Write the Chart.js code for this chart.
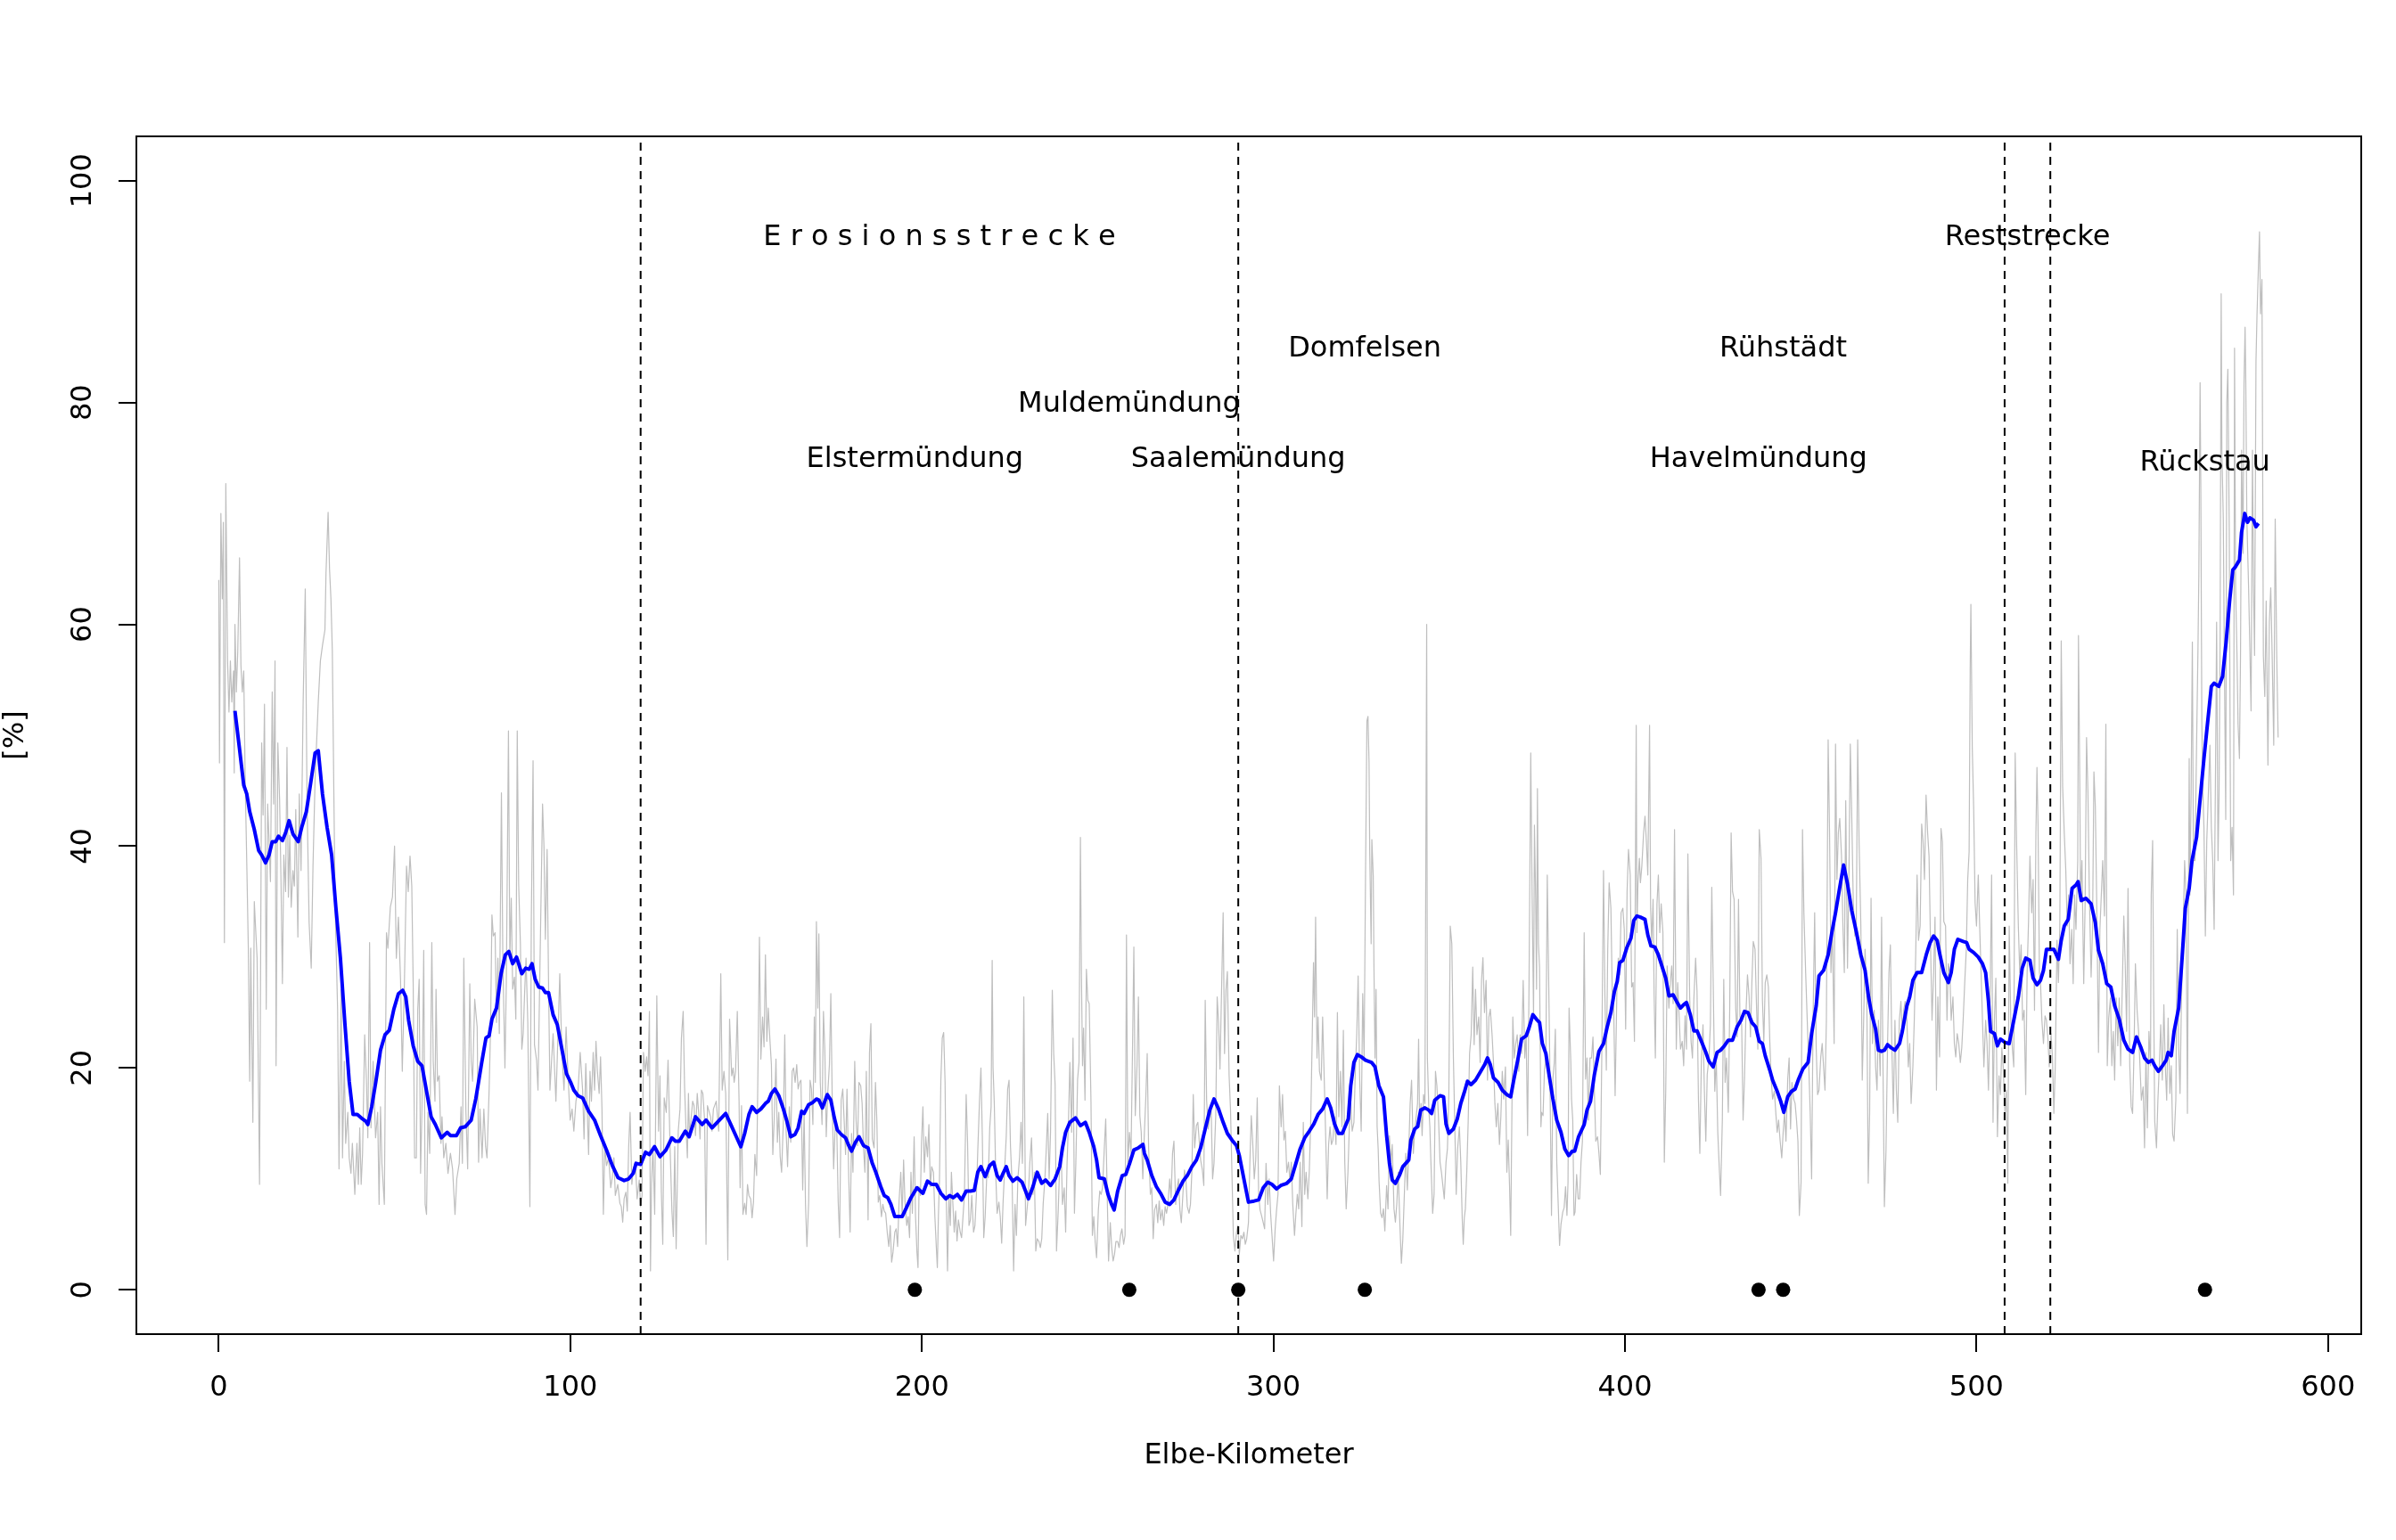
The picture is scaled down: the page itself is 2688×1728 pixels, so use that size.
<!DOCTYPE html>
<html><head><meta charset="utf-8">
<script src="https://cdn.jsdelivr.net/npm/chart.js@4.4.1/dist/chart.umd.min.js"></script>
<style>html,body{margin:0;padding:0;background:#fff;}canvas{display:block;}</style>
</head><body>
<canvas id="c" width="2688" height="1728" style="width:2688px;height:1728px"></canvas>
<script>
// Raw readings [Elbe-km, %] (grey, noisy)
const grayReadings = [
[0,64],[0.2,47.5],[0.6,70],[1,62.3],[1.3,69.2],[1.6,31.3],[2,72.7],[2.5,56.7],[2.9,52.1],[3.3,56.7],[3.7,53],[4.2,55.8],[4.4,46.6],[4.6,60],[5,53.9],[5.4,57.6],[5.9,66],[6.3,56.3],[6.7,53.9],[7.1,55.8],[7.5,46.1],[8,37.8],[8.4,30.8],[8.8,18.8],[9.1,30.8],[9.7,15.1],[10.1,35],[10.9,29.9],[11.6,9.5],[12.2,49.3],[12.6,42.8],[13,52.8],[13.5,25.3],[13.9,43.8],[14.3,40.5],[14.7,36.8],[15.2,53.9],[15.6,43.8],[16,56.7],[16.3,20.2],[16.8,49.3],[17.3,44.2],[17.7,36.8],[18.1,27.6],[18.5,39.2],[19,35.9],[19.4,48.9],[19.8,35.4],[20.2,41],[20.6,34.5],[21.1,37.8],[21.5,36.4],[21.9,43.3],[22.5,31.8],[22.9,44.7],[23.4,37.8],[24,53],[24.6,63.2],[25.1,44.2],[25.7,33.1],[26.3,29],[26.8,38.2],[27.4,46.1],[28.3,53],[28.9,56.7],[29.5,58.1],[30.2,59.5],[30.5,64.6],[31.1,70.1],[31.5,65],[31.9,62.3],[32.3,57.6],[32.7,45.7],[33.1,34.5],[33.8,25.3],[34.2,10.9],[34.8,27.1],[35.2,11.9],[35.7,20.6],[36.1,13.2],[36.7,16],[37.1,11.9],[37.6,10.5],[38,13.2],[38.7,8.6],[39.3,13.2],[39.7,9.5],[40.1,14.6],[40.5,9.5],[40.9,12.3],[41.5,23],[42,18.8],[42.4,13.7],[42.9,31.3],[43.3,14.6],[43.9,20.6],[44.6,13.7],[45.2,16],[45.6,7.7],[46,16.5],[46.4,11.4],[47.1,7.7],[47.7,32.2],[48.1,30.8],[48.8,34.5],[49.4,35.4],[50,40],[50.5,29.9],[51.1,33.6],[51.7,28],[52.2,19.7],[52.8,27.6],[53.4,38.2],[53.9,35.9],[54.4,39.1],[54.9,36.4],[55.3,27.6],[55.7,11.9],[56.2,11.9],[56.6,25.3],[57,28],[57.4,10.5],[57.8,16.5],[58.3,30.6],[58.7,7.7],[59.1,6.8],[59.5,16],[60,12.3],[60.6,31.3],[61,20.6],[61.5,17],[61.8,27.1],[62.2,18.8],[62.7,19.3],[63.2,13.2],[63.5,15.6],[64,11.9],[64.6,13.2],[65.2,10.5],[65.9,12.3],[66.5,10.9],[67.2,6.8],[67.7,10],[68.4,11.4],[68.9,16.5],[69.3,11.4],[69.7,29.9],[70.3,16],[70.8,10.9],[71.4,27.6],[71.8,20.6],[72.2,18.8],[72.8,26.2],
[73.5,23.7],[73.9,11.5],[74.3,16.3],[74.9,11.9],[75.4,16.3],[75.9,12.9],[76.3,11.9],[76.9,18],[77.3,23.4],[77.7,33.8],[78.1,31.9],[78.6,32.2],[79,24.1],[79.4,29.9],[79.8,23.1],[80.4,44.8],[80.8,29.9],[81.4,20],[81.8,27.8],[82.4,50.4],[82.8,29.9],[83.2,35.3],[83.6,27.1],[84.1,28.2],[84.5,24.4],[84.9,50.4],[85.3,36.6],[85.8,31.2],[86.2,21.7],[86.6,23.1],[87,26.8],[87.4,29.9],[87.9,24.1],[88.5,7.5],[88.9,33.2],[89.4,47.7],[89.8,22.1],[90.4,20.7],[90.8,18],[91.5,31.9],[92.1,43.8],[92.5,40],[92.9,31.6],[93.4,39.7],[93.8,27.8],[94.2,18],[95.1,23.1],[95.9,17],[96.6,24.1],[97,28.5],[97.6,21.4],[98.2,18],[98.8,23.7],[99.3,19.7],[99.95,15.3],[100.5,16.3],[101,14.3],[101.6,17],[102.2,18],[102.8,21.4],[103.5,18],[103.9,13.6],[104.4,20.4],[104.8,16.3],[105.2,12.2],[105.6,19.7],[106,17],[106.5,21.4],[106.9,18],[107.3,22.4],[107.7,19.7],[108.2,17.7],[108.6,21],[109,16.3],[109.4,6.8],[109.8,12.9],[110.3,11.2],[110.9,11.9],[111.5,9.2],[111.96,10.2],[112.4,11.9],[112.8,8.5],[113.5,9.5],[114.1,7.8],[114.5,7.5],[114.9,6.1],[115.3,8.2],[115.8,8.8],[116.2,7.1],[116.6,12.9],[117,16],[117.5,9.5],[117.9,10.9],[118.5,11.5],[119,8.2],[119.6,9.9],[120,7.5],[120.4,8.5],[120.8,21.4],[121.3,19.7],[121.7,21],[122.1,19.3],[122.5,25.1],[122.8,1.7],[123.1,9.5],[123.5,12.9],[124,6.8],[124.6,26.5],[125.1,14.3],[125.5,19.3],[125.9,8.8],[126.3,4.1],[126.7,17.3],[127.3,16],[127.8,20.7],[128.4,12.6],[128.9,7.1],[129.3,4.8],[129.7,12.9],[130.1,3.7],[130.7,14.3],[131.2,16.3],[131.6,22.7],[132.1,25.1],[132.5,18.3],[132.9,14.6],[133.3,11.9],[133.6,17.7],[133.9,13.9],[134.4,15.6],[134.8,17],[135.2,16.6],[135.6,13.9],[136.1,17.7],[136.5,16],[136.9,13.6],[137.3,18],[137.7,17.7],[138.2,15.3],[138.6,4.1],[139,16.6],[139.9,15.6],[140.3,14.3],[140.7,16.3],[141.5,17],[142.2,14.3],[142.8,28.5],[143.2,18],[143.7,19.7],[144.2,17.7],[144.8,2.7],[145.3,24.4],[145.9,19.3],[146.3,20],[146.6,18.7],[147,19.7],[147.5,25.1],[148,17],[148.3,9.2],[148.7,16.6],[149.1,6.8],[149.6,7.8],[150,6.8],[150.4,9.5],[150.8,8.5],[151.3,8.2],[151.7,6.5],
[152.1,7.9],[152.5,12.2],[153,10.3],[153.4,20.6],[153.8,31.8],[154.2,20.8],[154.7,24.6],[155.1,21.9],[155.5,30.2],[155.9,22.4],[156.3,25.4],[156.8,22.4],[157.2,20.3],[157.6,12.2],[158,15.4],[158.5,20.8],[158.9,13.3],[159.3,16],[159.7,12],[160.1,10.6],[160.6,15.2],[161,23],[161.4,14.1],[161.8,11.1],[162.3,16.5],[162.7,13.3],[163.1,19.7],[163.5,20],[163.95,18.7],[164.4,20.3],[164.8,18.1],[165.2,18.7],[165.6,18.9],[166.1,9],[166.5,16],[166.9,7.7],[167.3,3.9],[167.8,7.9],[168.2,18.9],[168.6,18.1],[169,14.9],[169.4,24.6],[169.7,18.7],[170,33.2],[170.4,25.4],[170.7,32.1],[171.1,18.7],[171.6,14.9],[172,25.1],[172.4,21.6],[172.8,13.8],[173.2,17.6],[173.7,20.3],[174.1,26.7],[174.5,17.1],[174.9,10.9],[175.4,15.2],[175.8,14.4],[176.2,7.9],[176.6,4.7],[177.05,17.1],[177.5,18.1],[177.9,15.2],[178.3,12.2],[178.7,18.1],[179.2,10.1],[179.6,5.2],[180,14.1],[180.4,10.6],[180.9,20.6],[181.3,15.2],[181.7,13],[182.1,18.7],[182.6,18.4],[183,16.8],[183.4,12.8],[183.8,10.6],[184.2,19.7],[184.7,6.3],[185.1,21.4],[185.5,24],[185.9,13.6],[186.4,12.8],[186.8,18.7],[187.2,15.2],[187.6,7.9],[188,8.5],[188.5,6.6],[188.9,7.7],[189.3,7.1],[189.7,6.9],[190.2,5],[190.6,3.9],[191,5.8],[191.4,2.5],[191.8,3.4],[192.3,5.2],[192.7,5.5],[193.1,3.9],[193.5,7.9],[194,10.6],[194.4,6.6],[194.8,11.7],[195.2,7.9],[195.7,5.8],[196.1,6.6],[196.5,4.7],[196.9,10.6],[197.3,6.9],[197.8,13.8],[198.2,6.6],[198.6,3.4],[198.9,2],[199.2,9.3],[199.6,8.5],[199.9,13.3],[200.3,16.5],[200.7,10.6],[201.1,13.8],[201.6,12],[202,14.9],[202.4,9.3],[202.8,11.1],[203.3,10.6],[203.7,6.6],[204.1,3.9],[204.4,2],[204.7,6.6],[205,9.8],[205.4,18.9],[205.8,22.7],[206.2,23.2],[206.6,18.7],[206.9,9],[207.3,1.7],[207.7,8.5],[208.1,5.8],[208.4,10.6],[208.8,7.9],[209.2,5.2],[209.6,7.1],[210,4.4],[210.4,6.3],[210.9,5.2],[211.3,4.7],[211.7,6.6],[212.1,8.5],[212.6,17.6],[213,13.3],[213.4,5.8],[213.8,6.3],[214.2,8.5],[214.7,5.2],[215.1,5.8],[215.5,8.5],[215.9,12.5],[216.4,17.1],[216.8,20],[217.2,13.8],[217.6,4.7],[218,6.6],[218.5,10.6],[218.9,10.1],[219.3,14.6],[219.7,16.5],[220,29.7],[220.25,20],[220.6,16.8],[221,10.6],[221.4,6.9],[221.9,7.9],[222.3,6.6],[222.7,4.2],[223.1,7.9],[223.5,10.6],[224,13.8],[224.4,18.1],[224.8,18.9],[225.2,13],[225.7,9.3],[226.1,1.7],
[226.5,7.7],[226.9,4.9],[227.3,10],[227.8,12],[228.2,15.1],[228.6,11.4],[229,26.4],[229.5,5.8],[229.9,7.2],[230.3,8.6],[230.7,11.4],[231.2,13.7],[231.6,8.6],[232,10.6],[232.4,3.5],[232.8,4.6],[233.3,4.35],[233.7,3.8],[234.1,4.6],[234.5,7.7],[235,10],[235.4,12.8],[235.8,15.9],[236.2,10],[236.6,14.2],[237.1,27],[237.5,21.3],[237.9,18.5],[238.3,3.5],[238.8,7.2],[239.2,11.4],[239.6,12.8],[240,7.7],[240.5,9.2],[240.9,5.2],[241.3,11.4],[241.7,15.1],[242.1,20.5],[242.6,14.2],[243,22.7],[243.4,6.9],[243.8,11.4],[244.3,19],[244.7,20.5],[245.1,40.8],[245.4,28.1],[245.7,20.2],[246,23.6],[246.4,17.1],[246.8,28.9],[247.2,26.1],[247.6,25.8],[248.1,17.1],[248.5,4.9],[248.9,6.6],[249.3,4.35],[249.7,2.9],[250.2,7.2],[250.6,8.9],[251,8.6],[251.4,9.2],[251.9,12.8],[252.3,15.4],[252.7,8.9],[253.1,2.6],[253.6,6.05],[254,3.8],[254.4,2.6],[254.8,3.2],[255.2,4.35],[255.7,4.35],[256.1,3.8],[256.5,4.9],[256.9,5.5],[257.4,4.1],[257.8,4.9],[258.2,32],[258.6,11.4],[259.05,14.2],[259.5,12.3],[259.9,21.3],[260.3,30.9],[260.7,15.7],[261.2,20.2],[261.6,26.4],[262,15.7],[262.4,14.2],[262.85,10],[263.3,14.2],[263.7,17.3],[264.1,21.3],[264.5,12.8],[265,8.6],[265.4,9.2],[265.8,4.6],[266.2,7.2],[266.7,7.7],[267.1,6.05],[267.5,8],[267.9,6.3],[268.35,7.2],[268.8,5.8],[269.2,7.5],[269.6,6.9],[270,7.7],[270.5,10],[270.9,8.3],[271.3,12.3],[271.7,13.4],[272.2,7.7],[272.6,9.2],[273,10],[273.4,7.2],[273.8,6.05],[274.3,8.9],[274.7,10.8],[275.1,10],[275.5,7.5],[276,6.9],[276.4,7.7],[276.8,10.6],[277.2,17.6],[277.6,12.8],[278.1,14.8],[278.5,15.1],[278.9,13.4],[279.3,11.7],[279.8,10.8],[280.2,9.4],[280.6,26.1],[281,17.1],[281.45,14.5],[281.9,15.7],[282.3,16.2],[282.7,10],[283.1,11.4],[283.6,15.7],[284,26.4],[284.4,24.1],[284.8,19.9],[285.25,27],[285.7,34],[286.1,21.3],[286.5,27],[286.9,28.7],[287.4,19.3],[287.8,16.2],[288.2,10.6],[288.6,4.9],[289.05,3.5],[289.5,5.2],[289.9,5.8],[290.3,3.2],[290.75,4.9],[291.2,4.6],[291.6,5.2],[292,4.1],[292.4,4.6],[292.9,6.05],[293.3,11.4],[293.7,15.7],[294.1,13.4],[294.55,10],[294.97,11.7],[295.4,17.3],[295.8,8.6],[296.2,7.2],[296.7,6.6],[297.1,6.05],[297.5,5.5],[297.9,11.4],[298.4,7.7],[298.8,10],[299.2,6.9],[299.6,4.9],[300.05,2.6],[300.5,5.5],[300.9,7.2],[301.3,8.6],
[301.7,18.4],[302.2,14.7],[302.6,17.6],[303,13.5],[303.4,14.3],[303.8,10.6],[304.3,11.5],[304.7,9.8],[305.1,11.5],[305.5,7.75],[306,4.9],[306.4,6.9],[306.8,8.6],[307.2,7.3],[307.6,11.5],[308.1,5.7],[308.5,15.1],[308.9,8.6],[309.3,10.6],[309.8,8.2],[310.2,10.6],[310.6,15.1],[311,22.1],[311.4,29.5],[311.7,24.6],[312,33.6],[312.4,20.9],[312.7,24.6],[313.1,19.7],[313.6,18.9],[314,24.6],[314.4,19.7],[314.8,14.7],[315.3,8.2],[315.7,13.1],[316.1,14.7],[316.5,13.1],[316.9,13.5],[317.4,15.6],[317.8,13.1],[318.2,25],[318.6,15.6],[319.05,19.7],[319.5,14.7],[319.9,23.4],[320.3,11.5],[320.7,7.3],[321.2,10.6],[321.6,14.7],[322,16.8],[322.4,14.3],[322.9,15.1],[323.3,19.7],[323.7,23],[324.1,28.3],[324.55,18.9],[324.97,14.3],[325.4,26.7],[325.8,20.9],[326.2,37.3],[326.6,51.3],[326.9,51.7],[327.2,47.6],[327.4,39.4],[327.8,31.2],[328,40.6],[328.4,37.3],[328.6,29.1],[328.9,20.9],[329.2,27.1],[329.5,14.7],[329.8,12.7],[330.05,9.8],[330.5,6.9],[330.9,6.5],[331.3,7.3],[331.7,5.3],[332.2,9.4],[332.6,7.3],[333,13.9],[333.4,11.5],[333.8,13.1],[334.3,7.3],[334.7,6.1],[335.1,7.75],[335.5,10.6],[336,5.7],[336.4,2.4],[336.8,4.5],[337.2,8.2],[337.65,12.3],[338.1,9],[338.5,12.7],[338.9,16.8],[339.3,18.9],[339.8,12.3],[340.2,14.3],[340.6,15.6],[341,16.8],[341.3,22.6],[341.6,14.7],[342,16.8],[342.3,13.9],[342.7,17.6],[343.1,16.8],[343.6,60],[343.8,20.9],[344.2,16.4],[344.5,14.7],[344.8,11.5],[345.3,6.9],[345.7,8.6],[346.1,19.7],[346.5,18.4],[346.95,15.6],[347.4,11.5],[347.8,10.6],[348.2,9.4],[348.6,8.2],[349.1,11.5],[349.5,12.7],[349.9,17.6],[350.3,32.8],[350.75,31.2],[351.2,20.9],[351.6,14.7],[352,8.6],[352.4,12.7],[352.9,14.7],[353.3,11.5],[353.7,6.5],[354,4.1],[354.3,6.5],[354.6,7.3],[355,10.6],[355.4,15.1],[355.8,21.3],[356.25,23],[356.7,29.1],[357.1,22.1],[357.5,27.1],[357.9,23],[358.4,24.6],[358.8,20.5],[359.2,27.9],[359.6,29.95],[360.05,25],[360.5,27.9],[360.9,18.9],[361.3,24.6],[361.7,25.3],[362.2,23],[362.6,20.5],[363,16.8],[363.4,14.7],[363.85,16.8],[364.3,13.1],[364.7,15.6],[365.1,19.7],[365.5,17.2],[366,20.1],[366.4,10.6],[366.8,13.5],[367.2,9],[367.5,4.9],[367.8,14.7],[368.1,24.6],[368.5,20.9],[368.9,22.1],[369.35,23],[369.8,19.7],[370.2,23],[370.6,21.3],[371.05,27.9],[371.5,20.9],[371.9,23],[372.3,13.9],[372.7,27.1],[373.2,48.4],[373.6,35.3],[374,24.6],[374.25,41.9],[374.6,35.3],[374.85,27.1],[375.1,45.2],[375.4,31.2],[375.7,29.1],[376.1,14.7],
[376.3,16],[376.7,15.7],[377.1,19.8],[377.5,20.9],[377.9,37.4],[378.2,30.3],[378.6,20.9],[379.1,6.7],[379.5,19],[379.9,20.5],[380.2,23.5],[380.6,11.5],[381,7.8],[381.4,4],[381.8,5.9],[382.3,7],[382.7,7.4],[383.1,9.3],[383.5,6.7],[383.8,9.7],[384.1,25.4],[384.6,20.5],[384.8,17.2],[385.15,15.3],[385.5,6.7],[385.8,7],[386.25,10.4],[386.7,8.2],[387.1,8.2],[387.5,11.5],[387.9,13.4],[388.4,32.2],[388.8,19],[389.2,20.9],[389.6,15.3],[390.05,20.9],[390.5,20.9],[390.9,22.8],[391.3,17.9],[391.7,13.4],[392.2,13.8],[392.6,12.3],[393,10.4],[393.4,20.9],[393.9,37.8],[394.3,26.5],[394.7,19.8],[395.1,30.7],[395.5,36.7],[396,34.4],[396.4,26.5],[396.8,25.4],[397.2,17.5],[397.7,26.9],[398.1,29.9],[398.5,28.4],[398.9,34],[399.4,34.4],[399.8,32.5],[400.2,23.5],[400.6,35.9],[401,39.7],[401.5,37.4],[401.9,27.3],[402.3,27.7],[402.7,22.4],[403.2,50.9],[403.4,32.2],[403.7,36.7],[404.1,38.9],[404.4,36.7],[404.8,38.2],[405.3,41.2],[405.7,42.7],[406.1,40.4],[406.5,37.4],[407,50.9],[407.3,34.4],[407.6,31.4],[408,35.2],[408.3,26.5],[408.65,20.9],[409.1,34.8],[409.5,37.4],[409.9,32.2],[410.3,34.8],[410.8,32.2],[411.2,11.5],[411.6,17.9],[412,29.2],[412.5,25.4],[412.9,27.7],[413.3,29.2],[413.7,25.8],[414.1,41.5],[414.6,21.7],[415,27.7],[415.4,24.7],[415.8,21.7],[416.3,22.4],[416.7,20.2],[417.1,24.7],[417.5,21.7],[417.9,39.3],[418.4,26.5],[418.8,22.4],[419.2,20.9],[419.6,26.2],[420.1,29.9],[420.5,26.9],[420.9,17.2],[421.3,12.3],[421.75,20.9],[422.2,23.9],[422.6,17.9],[423,13.4],[423.4,19.4],[423.9,20.9],[424.3,23.9],[424.7,36.3],[425.1,27.7],[425.55,17.9],[425.97,20.9],[426.4,14.2],[426.8,11.2],[427.2,8.5],[427.7,15.3],[428.1,28],[428.5,18.7],[428.9,20.9],[429.4,16],[429.8,25.4],[430.2,41.2],[430.6,35.9],[431.05,35.2],[431.5,25.4],[431.9,22.8],[432.3,35.2],[432.7,24.7],[433.2,23.9],[433.6,15.3],[434,19],[434.4,24.7],[434.85,28.4],[435.3,26.5],[435.7,22.8],[436.1,27.7],[436.5,31.4],[437,30.7],[437.4,25.8],[437.8,21.7],[438.2,41.5],[438.7,38.9],[439.1,26.2],[439.5,22.4],[439.9,27.7],[440.35,28.4],[440.8,27.3],[441.2,22.4],[441.6,19],[442,17.2],[442.5,17.9],[442.9,16],[443.3,14.2],[443.7,15.3],[444.15,13.4],[444.6,11.9],[445,14.2],[445.4,16],[445.8,13.4],[446.3,19],[446.7,20.9],[447.1,14.5],[447.5,18.7],[448,17.2],[448.4,16.8],[448.8,15.3],[449.2,13.4],[449.6,6.7],[450.1,9.7],[450.5,41.5],[450.9,34],
[451.4,28.6],[451.85,24.3],[452.3,20.1],[452.7,15.9],[453.1,10],[453.5,24.3],[453.96,34],[454.4,21.8],[454.8,17.6],[455.2,18],[455.7,21],[456.1,22.2],[456.5,20.1],[456.9,18],[457.3,24.3],[457.8,49.6],[458.2,41.2],[458.6,28.6],[459,32.8],[459.5,22.2],[459.9,49.2],[460.3,37],[460.7,41.2],[461.1,42.5],[461.6,39.1],[462,32.8],[462.4,28.6],[462.8,44.1],[463.3,29],[463.7,37],[464.1,49.2],[464.5,42.9],[464.95,34.9],[465.4,31.9],[465.8,32.8],[466.2,49.6],[466.6,40.4],[467.1,32.8],[467.5,18.9],[467.9,24.3],[468.3,30.7],[468.8,26.4],[469.2,9.6],[469.6,15.9],[470,35.3],[470.4,22.2],[470.9,25.2],[471.3,20.1],[471.7,18],[472.1,24.3],[472.6,19.3],[473,33.6],[473.4,20.1],[473.8,7.5],[474.25,12.5],[474.7,22.2],[475.1,28.6],[475.5,31.1],[475.9,22.2],[476.35,15.9],[476.8,24.3],[477.2,18],[477.6,15.1],[478.05,24.3],[478.5,26],[478.9,23.1],[479.3,25.2],[479.7,26],[480.2,24.3],[480.6,20.1],[481,22.2],[481.4,16.8],[481.9,20.1],[482.3,24.3],[482.7,30.2],[483.1,37.4],[483.5,31.5],[483.97,32.8],[484.4,42],[484.8,40.4],[485.2,37],[485.65,44.6],[486.1,41.2],[486.5,39.1],[486.9,31.5],[487.35,24.3],[487.8,28.6],[488.2,33.6],[488.6,18],[489,26.4],[489.5,21],[489.9,41.6],[490.3,40.4],[490.7,33.2],[491.2,32.8],[491.6,24.3],[492,29.4],[492.4,28.6],[492.8,24.3],[493.3,26.4],[493.7,22.2],[494.1,21],[494.5,23.1],[494.95,22.2],[495.4,20.5],[495.8,21.8],[496.2,24.3],[496.65,27.7],[497.1,30.7],[497.5,37],[497.9,39.5],[498.2,55.9],[498.4,61.8],[498.8,48.8],[499.2,43.3],[499.6,34.9],[500,32.8],[500.5,37.4],[500.9,32.8],[501.3,28.6],[501.7,24.3],[502.1,20.1],[502.6,24.3],[503,22.2],[503.4,18],[503.8,24.3],[504.3,37.4],[504.7,15.1],[505.1,24.3],[505.5,28.1],[505.95,13.8],[506.4,19.3],[506.8,17.6],[507.2,21.8],[507.6,20.1],[508.1,15.9],[508.5,18],[508.9,9.6],[509.3,32.8],[509.75,24.3],[510.2,21.8],[510.6,20.1],[511,48.4],[511.4,40.4],[511.9,32.8],[512.3,28.6],[512.7,31.1],[513.1,24.3],[513.55,25.2],[514,17.6],[514.4,28.6],[514.8,33.2],[515.2,39.1],[515.7,34],[516.1,37],[516.5,25.2],[516.9,41.2],[517.2,47.1],[517.5,42],[517.9,28.6],[518.2,27.7],[518.6,24.3],[519.05,22.2],[519.5,24.7],[519.9,24.3],[520.3,22.7],[520.7,20.1],[521.2,23.1],[521.6,21],[522,15.9],[522.4,20.1],[522.9,31.5],[523.3,27.7],[523.7,32.8],[524.1,58.5],[524.5,45.4],[524.96,41.2],[525.4,37.8],[525.8,32.8],
[526.2,35.6],[526.6,29.4],[527.1,32.5],[527.5,27.6],[527.9,35.6],[528.3,32.5],[528.8,38.7],[529,59],[529.4,44.8],[529.6,35.6],[530,38.7],[530.5,27.6],[530.9,35],[531.3,49.8],[531.7,44.8],[532.1,35.6],[532.6,28.2],[533,32.5],[533.4,46.7],[533.8,43.6],[534.3,32.5],[534.7,21.4],[535.1,32.5],[535.5,35.6],[535.9,38.7],[536.4,33.7],[536.8,51],[537.2,20.2],[537.6,24.5],[538.1,26.3],[538.5,20.2],[538.9,23.3],[539.3,18.9],[539.75,26.3],[540.2,22],[540.6,26.3],[541,20.2],[541.4,26.3],[541.9,33.7],[542.3,29.4],[542.7,23.3],[543.1,36.2],[543.6,20.2],[544,16.5],[544.4,15.9],[544.8,21.4],[545.2,29.4],[545.7,25.1],[546.1,23.3],[546.5,20.2],[546.9,17.1],[547.4,18.3],[547.8,12.8],[548.2,21.4],[548.6,14.6],[549.05,23.3],[549.5,20.2],[549.7,35.6],[550.1,40.5],[550.4,26.3],[550.7,15.2],[551.2,12.8],[551.6,17.1],[552,20.2],[552.4,23.9],[552.85,18.9],[553.3,25.7],[553.7,20.2],[554.1,17.1],[554.5,24.5],[555,17.7],[555.4,20.2],[555.8,14],[556.2,13.4],[556.7,17.1],[557.1,32.5],[557.5,22],[557.9,17.7],[558.3,26.3],[558.8,32.5],[559.2,38.7],[559.6,35.6],[560,15.9],[560.5,47.9],[560.7,35.6],[561.05,44.8],[561.4,58.4],[561.7,38.7],[562.15,38.7],[562.6,49.1],[563,57.8],[563.25,64.6],[563.6,81.8],[563.8,72.6],[564.1,51],[564.4,44.8],[564.7,41.7],[565.1,31.9],[565.5,40.5],[565.96,44.8],[566.4,49.1],[566.8,41.7],[567.2,38.7],[567.6,32.5],[568.1,51],[568.3,60.2],[568.7,38.7],[569,44.8],[569.3,59],[569.6,89.8],[569.8,75.7],[570.2,69.5],[570.5,57.2],[570.9,42.4],[571.2,80],[571.5,83],[571.9,68.3],[572.3,38.7],[572.7,41.7],[573.1,35.6],[573.4,84.9],[573.7,63.3],[574.1,57.2],[574.4,51],[574.8,47.9],[575.1,57.2],[575.4,75.7],[575.8,66.4],[576.1,81.8],[576.4,86.8],[576.6,81.8],[576.9,69.5],[577.4,63.3],[577.8,57.2],[578.1,52.2],[578.5,75.7],[578.8,63.3],[579.1,57.2],[579.5,83.7],[579.8,88],[580.2,92.3],[580.5,95.4],[580.8,88],[581.2,91.1],[581.6,57.2],[582,53.5],[582.4,62.1],[582.9,47.3],[583.3,60.2],[583.7,63.3],[584.1,57.2],[584.55,49.1],[584.97,69.5],[585.4,57.2],[585.8,49.8]
];

// Smoothed course [Elbe-km, %] (blue)
const blueReadings = [
[4.6,52.2],[5.85,48.9],[7.1,45.5],[7.97,44.7],[8.8,43.1],[10.1,41.5],[11.35,39.6],[12.2,39.2],[13.3,38.5],[14.3,39.2],[15.2,40.4],[16.2,40.4],[17,40.9],[18.1,40.5],[19,41.2],[20,42.3],[21.1,41.1],[22.6,40.4],[23.6,41.7],[24.9,43.1],[26.1,45.6],[27.4,48.4],[28.3,48.6],[29.5,44.7],[30.8,41.7],[32.1,39.2],[33.3,34.5],[34.6,29.9],[35.9,23.9],[37.1,18.8],[38.2,15.8],[39.4,15.8],[40.5,15.5],[41.8,15.2],[42.4,14.9],[43.5,16.5],[44.7,18.8],[46,21.6],[47.3,23],[48.5,23.4],[49.8,25.3],[51.1,26.7],[52.3,27],[53.2,26.4],[54,24.3],[55.3,22],[56.6,20.6],[57.8,20.2],[59.1,17.9],[60.4,15.6],[61.6,14.9],[63.3,13.7],[65,14.2],[65.9,13.9],[67.6,13.9],[68.8,14.6],[70.1,14.7],[71.8,15.3],[73.1,17.2],
[74.8,20.5],[76,22.7],[76.9,22.9],[77.7,24.4],[79,25.4],[80.3,28.5],[81.5,30.2],[82.5,30.5],[83.6,29.4],[84.7,30],[86.2,28.5],[87.3,29],[88.3,28.9],[89.1,29.4],[90,28],[91,27.3],[92.1,27.2],[92.9,26.8],[93.8,26.8],[95.1,24.8],[96.3,23.9],[97.6,21.7],[98.9,19.5],[100.1,18.7],[101,18],[102.2,17.5],[103.5,17.3],[105.2,16.1],[106.9,15.3],[108.6,13.9],[110.3,12.6],[111.96,11.2],[113.6,10.1],[115.3,9.85],[116.6,10],[117.9,10.5],[118.7,11.4],[120,11.3],[121.4,12.4],[122.5,12.2],[123.96,12.9],[125.5,12],[127.2,12.6],[128.9,13.7],[129.9,13.4],[131,13.4],[132.7,14.3],[133.8,13.8],[135.6,15.6],[137.5,14.9],[138.6,15.3],[140.3,14.6],[142.4,15.3],[144.2,15.9],[145.8,14.8],[147.5,13.6],[148.5,12.9],[149.6,14.1],[150.8,15.8],
[151.7,16.5],[153,16],[154.2,16.3],[155.5,16.8],[156.3,17],[157.2,17.7],[158.2,18.1],[159.3,17.5],[160.6,16.3],[161.6,15.2],[162.7,13.8],[163.9,14],[164.8,14.6],[165.8,16.1],[166.5,15.9],[167.8,16.7],[169,16.9],[170,17.2],[170.7,17.1],[171.7,16.4],[173.1,17.6],[174.1,17.1],[175.1,15.5],[175.95,14.4],[177.1,14],[178.3,13.7],[179.2,13],[180,12.5],[181.1,13.3],[182.1,13.8],[183.4,13],[184.7,12.8],[185.9,11.4],[186.9,10.6],[188.3,9.3],[189.3,8.5],[190.3,8.3],[191.2,7.7],[192.3,6.6],[193.4,6.6],[194.4,6.6],[195.6,7.4],[196.9,8.3],[198.6,9.2],[200.3,8.7],[201.6,9.8],[202.8,9.5],[204.1,9.5],[205.4,8.7],[206.8,8.2],[207.9,8.5],[208.9,8.3],[210.1,8.6],[211.3,8.1],[212.6,8.9],[213.8,8.9],[214.9,8.95],[215.9,10.6],[216.8,11.1],[218,10.2],[219.3,11.2],[220.4,11.5],[221.4,10.3],[222.3,9.9],[223.1,10.5],
[224,11.1],[224.8,10.3],[225.9,9.8],[227.1,10.1],[228.5,9.7],[229.5,8.9],[230.3,8.2],[231.6,9.3],[232.8,10.6],[234.1,9.6],[235.2,9.9],[236.6,9.4],[237.9,10],[239.2,11.1],[240,12.8],[240.9,14.2],[242.1,15.1],[243.7,15.5],[245.1,14.8],[246.5,15.1],[247.6,14.2],[248.9,12.9],[249.7,11.7],[250.4,10.1],[251.9,10],[252.96,8.6],[253.97,7.7],[254.7,7.2],[255.7,8.9],[257,10.3],[258,10.4],[259.1,11.4],[260.3,12.6],[261.6,12.8],[262.9,13.1],[263.3,12.3],[264.1,11.7],[265.4,10.3],[266.7,9.3],[267.9,8.7],[269.2,7.9],[270.5,7.7],[271.7,8.1],[273,9],[274.3,9.8],[275.5,10.3],[276.8,11.1],[278.1,11.7],[279.3,12.8],[280.6,14.5],[281.9,16.2],[283.1,17.2],[284.4,16.3],[285.7,15.1],[286.9,14.1],[288.2,13.5],[289.5,13],[290.3,12.1],[291.6,10],[292.9,7.9],[294.5,8],[295.8,8.1],[297.1,9.2],[298.4,9.7],
[299.6,9.5],[300.9,9.1],[302.1,9.4],[303.8,9.6],[305.1,10],[306.4,11.4],[307.6,12.7],[308.9,13.7],[310.2,14.3],[311.5,14.95],[312.7,15.8],[314,16.3],[315.3,17.2],[316.3,16.4],[317.4,14.95],[318.5,14.1],[319.6,14.1],[320.7,14.95],[321.3,15.4],[322,18.4],[322.9,20.5],[323.9,21.2],[325,21],[326.2,20.7],[327.9,20.5],[328.9,20.1],[330,18.4],[331.3,17.4],[332.2,13.9],[333,11.4],[333.8,9.9],[334.7,9.6],[335.96,10.4],[336.8,11.1],[338.5,11.7],[339.1,13.5],[340.2,14.5],[341,14.7],[341.9,16.2],[343.1,16.4],[344.2,16.2],[345,15.9],[345.9,17.1],[347.4,17.5],[348.4,17.4],[349.1,14.95],[349.9,14.1],[351.2,14.5],[352.3,15.4],[353.3,16.8],[354.3,17.8],[355.2,18.8],[356.2,18.5],[357.5,18.9],[358.8,19.6],[360.1,20.3],[360.9,20.9],[361.7,20.3],[362.6,19.1],[363.9,18.7],[365.1,18],[366.4,17.6],[367.5,17.4],[368.3,18.8],[369.5,20.7],[370.6,22.6],[371.9,22.9],[372.7,23.6],[373.8,24.8],
[374.8,24.4],[375.7,24.1],[376.5,22.2],[377.5,21.3],[378.4,19.4],[379.5,17.2],[380.6,15.3],[381.8,14.2],[382.9,12.7],[384,12.1],[385,12.5],[385.7,12.5],[386.8,13.8],[388.4,14.9],[389.2,16.2],[390.2,17],[391.3,19.4],[392.6,21.5],[393.9,22.2],[394.95,23.7],[396,25],[397,26.9],[397.8,27.8],[398.5,29.5],[399.4,29.7],[400.6,30.9],[401.7,31.7],[402.5,33.3],[403.4,33.7],[404.4,33.6],[405.7,33.4],[406.5,32],[407.4,31],[408.5,30.9],[409.5,30.2],[410.5,29.2],[411.6,28.1],[412.5,26.5],[413.7,26.6],[414.7,26],[415.8,25.4],[416.7,25.7],[417.5,25.9],[418.6,24.8],[419.6,23.35],[420.5,23.35],[421.75,22.4],[422.9,21.5],[423.9,20.6],[425.1,20.1],[426.2,21.4],[427.2,21.6],[428.3,22],[429.4,22.5],[430.6,22.5],[431.9,23.7],[433,24.3],[434,25.1],[435,25],[436.1,24.1],[437.2,23.7],[438.2,22.4],[439.1,22.2],[439.9,21.1],[441.2,19.8],[442,18.9],[443.3,17.9],[444.3,17],[445.2,16],[446.3,17.4],[447.4,17.9],[448.4,18.1],[449.4,19],
[450.6,19.9],[452.1,20.5],[453.1,23.1],[454.4,25.6],[455.2,28.3],[456.5,28.8],[457.8,30.2],[458.9,32.3],[459.9,34],[461.1,36.3],[462.2,38.3],[463.3,36.6],[464.5,34.2],[465.8,32.3],[467.1,30.2],[468.3,28.8],[469.3,26.4],[470.2,24.8],[471.3,23.5],[472.1,21.6],[472.97,21.5],[473.8,21.6],[474.7,22.1],[475.8,21.8],[476.8,21.6],[478.1,22.2],[478.9,23.3],[480.2,25.6],[481,26.4],[481.9,27.9],[483.1,28.6],[484.4,28.6],[485.7,30.2],[486.8,31.3],[487.8,31.9],[488.8,31.5],[489.6,30.2],[490.7,28.6],[492,27.7],[492.8,28.6],[493.7,30.7],[494.7,31.6],[496.2,31.4],[497.2,31.3],[497.9,30.7],[499.2,30.4],[500.5,30],[501.7,29.4],[502.6,28.6],[503.4,26],[504,23.3],[505.1,23.1],[505.95,22],[506.8,22.6],[508.1,22.3],[509.3,22.2],[510.6,24.3],[511.9,26.4],[513,29],[514,29.9],[515.2,29.7],[516.1,28.1],[517.2,27.5],[518.2,27.9],[519.05,28.8],[519.9,30.7],[520.7,30.7],[522,30.7],[523.3,29.8],[524.1,31.5],[524.96,32.8],
[526.1,33.4],[527.2,36.2],[528.3,36.5],[528.9,36.8],[529.8,35.1],[531.1,35.3],[532.6,34.8],[533.8,33.1],[534.7,30.6],[535.9,29.4],[537.05,27.6],[538.2,27.3],[539.3,25.6],[540.6,24.4],[541.9,22.5],[543.1,21.7],[544.4,21.4],[545.5,22.8],[546.7,21.9],[547.8,20.9],[548.9,20.5],[549.9,20.7],[550.7,20.2],[551.75,19.7],[552.9,20.2],[553.95,20.7],[554.5,21.4],[555.4,21.1],[556.2,23.3],[557.5,25.4],[558.5,30],[559.4,34.4],[560.5,36.2],[561.3,38.7],[562.6,40.8],[563.6,44.2],[564.7,47.9],[565.5,50.4],[566.8,54.4],[567.6,54.7],[568.9,54.4],[570,55.3],[571,58.4],[572,62.1],[572.9,64.9],[573.7,65.2],[574.8,65.8],[575.4,68.3],[576.3,70],[577.1,69.2],[577.8,69.6],[578.8,69.4],[579.5,68.8],[580.2,69.1]
];

const markerKm = [198, 259, 290, 326, 438, 445, 565];
const sectionBoundsKm = [120, 290, 508, 521];
const xTicks = [0, 100, 200, 300, 400, 500, 600];
const yTicks = [0, 20, 40, 60, 80, 100];
const labelTexts = ["E r o s i o n s s t r e c k e", "Reststrecke", "Domfelsen", "Rühstädt", "Muldemündung", "Elstermündung", "Saalemündung", "Havelmündung", "Rückstau"];
const labelKm = [205, 514.5, 326, 445, 259, 198, 290, 438, 565];
const labelPct = [95, 95, 85, 85, 80, 75, 75, 75, 74.7];
const xTitle = "Elbe-Kilometer";
const yTitle = "[%]";

const FONT = '32px "DejaVu Sans", "Liberation Sans", sans-serif';

const rAxes = {
  id: 'rAxes',
  afterDatasetsDraw(chart) {
    const {ctx, chartArea: a, scales: {x, y}} = chart;
    ctx.save();
    ctx.strokeStyle = '#000'; ctx.fillStyle = '#000';
    ctx.lineWidth = 2;
    ctx.strokeRect(a.left, a.top, a.right - a.left, a.bottom - a.top);
    ctx.beginPath();
    xTicks.forEach(v => { const px = Math.round(x.getPixelForValue(v)); ctx.moveTo(px, a.bottom); ctx.lineTo(px, a.bottom + 20); });
    yTicks.forEach(v => { const py = Math.round(y.getPixelForValue(v)); ctx.moveTo(a.left, py); ctx.lineTo(a.left - 20, py); });
    ctx.stroke();
    ctx.font = FONT;
    ctx.textAlign = 'center'; ctx.textBaseline = 'middle';
    xTicks.forEach(v => ctx.fillText(String(v), x.getPixelForValue(v), a.bottom + 61));
    yTicks.forEach(v => {
      ctx.save(); ctx.translate(a.left - 59, y.getPixelForValue(v)); ctx.rotate(-Math.PI / 2);
      ctx.fillText(String(v), 0, 0); ctx.restore();
    });
    ctx.fillText(xTitle, (a.left + a.right) / 2, a.bottom + 137);
    ctx.save(); ctx.translate(a.left - 135, (a.top + a.bottom) / 2); ctx.rotate(-Math.PI / 2);
    ctx.fillText(yTitle, 0, 0); ctx.restore();
    labelTexts.forEach((t, i) => ctx.fillText(t, x.getPixelForValue(labelKm[i]), y.getPixelForValue(labelPct[i]) + 2));
    ctx.restore();
  }
};

const datasets = [
  { data: grayReadings.map(([k, v]) => ({x: k, y: v})), borderColor: '#BEBEBE', borderWidth: 1.2, pointRadius: 0, order: 10 },
  { data: blueReadings.map(([k, v]) => ({x: k, y: v})), borderColor: '#0000FF', borderWidth: 4, pointRadius: 0, order: 9 },
  ...sectionBoundsKm.map(k => ({ data: [{x: k, y: -4}, {x: k, y: 104}], borderColor: '#000', borderWidth: 2, borderDash: [9, 7], pointRadius: 0, order: 5 })),
  { data: markerKm.map(k => ({x: k, y: 0})), showLine: false, pointRadius: 8, pointHoverRadius: 8, pointBackgroundColor: '#000', pointBorderWidth: 0, borderColor: '#000', order: 1 }
];

new Chart(document.getElementById('c'), {
  type: 'line',
  data: { datasets },
  options: {
    responsive: false, animation: false, devicePixelRatio: 1,
    layout: { padding: { left: 153, right: 39, top: 153, bottom: 231 } },
    plugins: { legend: { display: false }, tooltip: { enabled: false } },
    elements: { line: { tension: 0, borderCapStyle: 'butt', borderJoinStyle: 'round' } },
    scales: {
      x: { type: 'linear', min: -23.44, max: 609.44, display: false },
      y: { type: 'linear', min: -4, max: 104, display: false }
    }
  },
  plugins: [rAxes]
});
</script>
</body></html>
